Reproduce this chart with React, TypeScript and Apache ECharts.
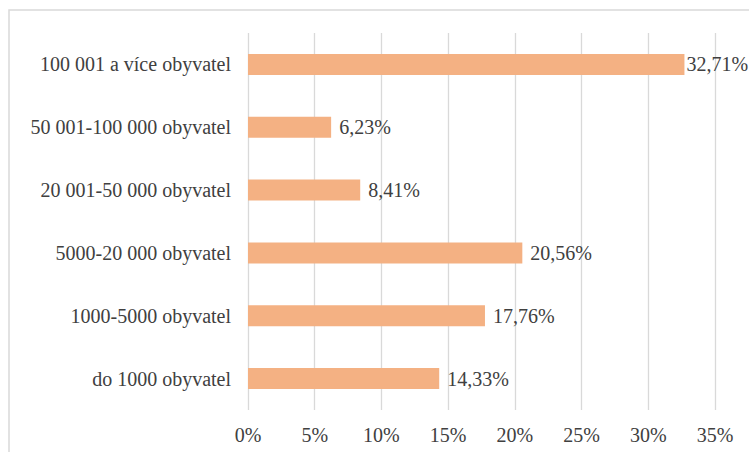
import React, { useEffect, useRef } from "react";
import * as echarts from "echarts";

const categories = [
  "do 1000 obyvatel",
  "1000-5000 obyvatel",
  "5000-20 000 obyvatel",
  "20 001-50 000 obyvatel",
  "50 001-100 000 obyvatel",
  "100 001 a více obyvatel",
];
const values = [14.33, 17.76, 20.56, 8.41, 6.23, 32.71];
const FONT = "Liberation Serif";

export default function App() {
  const ref = useRef<HTMLDivElement>(null);
  useEffect(() => {
    if (!ref.current) return;
    const chart = echarts.init(ref.current, undefined, { renderer: "svg" });
    chart.setOption({
      animation: false,
      backgroundColor: "#ffffff",
      textStyle: { fontFamily: FONT },
      graphic: [
        {
          type: "rect",
          shape: { x: 9, y: 10, width: 780, height: 480 },
          style: { fill: "none", stroke: "#d9d9d9", lineWidth: 1.5 },
          silent: true,
        },
      ],
      grid: { left: 248, right: 34, top: 33, bottom: 42, containLabel: false },
      xAxis: {
        type: "value",
        min: 0,
        max: 35,
        interval: 5,
        axisLine: { show: false },
        axisTick: { show: false },
        splitLine: { show: true, lineStyle: { color: "#d9d9d9", width: 1.3 } },
        axisLabel: {
          formatter: (v: number) => `${v}%`,
          color: "#404040",
          fontFamily: FONT,
          fontSize: 20,
          margin: 15,
        },
      },
      yAxis: {
        type: "category",
        data: categories,
        axisLine: { show: false },
        axisTick: { show: false },
        axisLabel: {
          color: "#404040",
          fontFamily: FONT,
          fontSize: 20,
          margin: 17,
        },
      },
      series: [
        {
          type: "bar",
          data: values.map((v, i) =>
            i === values.length - 1 ? { value: v, label: { distance: 2 } } : v
          ),
          barWidth: 21,
          itemStyle: { color: "#f4b183" },
          label: {
            show: true,
            position: "right",
            distance: 8,
            formatter: (p: any) => `${p.value.toFixed(2).replace(".", ",")}%`,
            color: "#404040",
            fontFamily: FONT,
            fontSize: 20,
          },
        },
      ],
    });
    return () => chart.dispose();
  }, []);
  return (
    <div
      ref={ref}
      style={{ position: "fixed", left: 0, top: 0, width: 749, height: 452 }}
    />
  );
}
